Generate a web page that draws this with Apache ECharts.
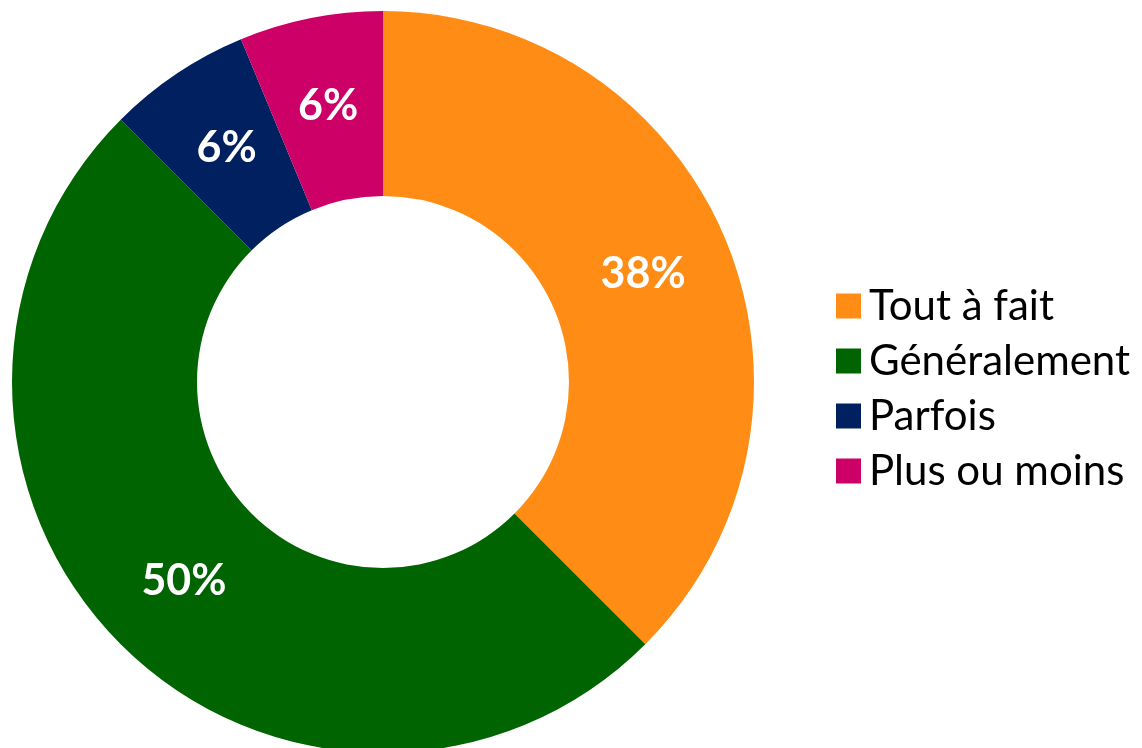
<!DOCTYPE html>
<html>
<head>
<meta charset="utf-8">
<script src="https://cdn.jsdelivr.net/npm/echarts@6/dist/echarts.min.js"></script>
<style>
  html, body { margin: 0; padding: 0; background: #fff; }
  #chart { width: 1142px; height: 748px; }
</style>
</head>
<body>
<div id="chart"></div>
<script>
// données du graphique
const categories = ['Tout à fait', 'Généralement', 'Parfois', 'Plus ou moins'];
const values = [37.5, 50, 6.25, 6.25];
const colors = ['#FF8C14', '#006400', '#002060', '#CC0066'];

const chart = echarts.init(document.getElementById('chart'));

chart.setOption({
  animation: false,
  color: colors,
  legend: {
    orient: 'vertical',
    left: 831,
    top: 280,
    icon: 'rect',
    itemWidth: 25,
    itemHeight: 25,
    itemGap: 13,
    data: categories,
    textStyle: {
      fontFamily: 'Lato',
      fontSize: 42,
      color: '#000',
      padding: [0, 0, 0, 3]
    }
  },
  series: [
    {
      type: 'pie',
      center: [383, 382],
      radius: [186, 371],
      startAngle: 90,
      clockwise: true,
      label: {
        show: true,
        position: 'inside',
        color: '#fff',
        fontFamily: 'Lato',
        fontWeight: 'bold',
        fontSize: 43,
        padding: [8, 0, 0, 0],
        formatter: p => Math.round(p.percent) + '%'
      },
      labelLine: { show: false },
      data: categories.map((name, i) => ({ name: name, value: values[i] }))
    }
  ]
});
</script>
</body>
</html>
